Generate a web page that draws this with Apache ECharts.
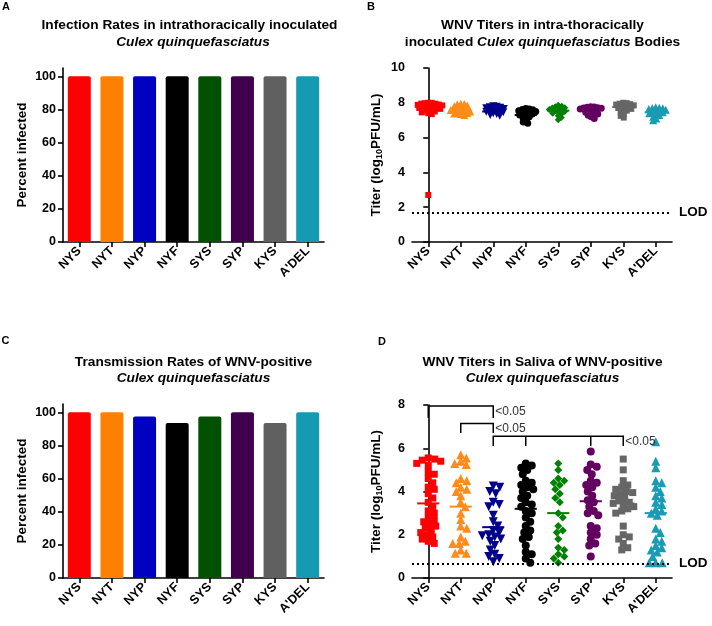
<!DOCTYPE html>
<html><head><meta charset="utf-8">
<script src="https://cdn.jsdelivr.net/npm/echarts@6/dist/echarts.min.js"></script>
<style>html,body{margin:0;padding:0;background:#fff}#c{width:712px;height:626px}</style>
</head><body><div id="c"></div>
<script>
// ---------------- data ----------------
const categories = ['NYS', 'NYT', 'NYP', 'NYF', 'SYS', 'SYP', 'KYS', "A'DEL"];
const infectionRates = [100, 100, 100, 100, 100, 100, 100, 100];
const transmissionRates = [100, 100, 97.5, 93.5, 97.5, 100, 93.5, 100];
const percentTicks = [0, 20, 40, 60, 80, 100];

// Panel B: body titers (log10 PFU/mL)
const bodyNYS = [8.0, 8.0, 7.98, 7.95, 7.95, 7.9, 7.88, 7.85, 7.82, 7.8, 7.78, 7.75, 7.72, 7.7, 7.65, 7.6, 7.58, 7.55, 7.5, 7.45, 7.4, 7.35, 2.7];
const bodyNYT = [7.95, 7.93, 7.92, 7.85, 7.8, 7.75, 7.72, 7.68, 7.65, 7.6, 7.58, 7.55, 7.52, 7.5, 7.45, 7.42, 7.38, 7.35, 7.3];
const bodyNYP = [7.8, 7.78, 7.75, 7.72, 7.68, 7.65, 7.6, 7.58, 7.55, 7.5, 7.48, 7.45, 7.4, 7.35, 7.3, 7.25];
const bodyNYF = [7.67, 7.65, 7.62, 7.6, 7.55, 7.5, 7.48, 7.45, 7.4, 7.35, 7.3, 7.25, 7.2, 7.1, 7.0, 6.9, 6.83];
const bodySYS = [7.86, 7.8, 7.78, 7.72, 7.7, 7.65, 7.62, 7.58, 7.55, 7.5, 7.45, 7.4, 7.35, 7.25, 7.15, 7.02];
const bodySYP = [7.77, 7.76, 7.74, 7.72, 7.7, 7.68, 7.65, 7.6, 7.55, 7.5, 7.45, 7.4, 7.35, 7.28, 7.2, 7.1];
const bodyKYS = [8.0, 7.98, 7.95, 7.92, 7.9, 7.85, 7.82, 7.78, 7.75, 7.7, 7.65, 7.6, 7.55, 7.45, 7.35, 7.25, 7.15];
const bodyADEL = [7.75, 7.72, 7.7, 7.68, 7.65, 7.6, 7.55, 7.5, 7.48, 7.45, 7.4, 7.35, 7.3, 7.2, 7.1, 7.0];
const bodyMeans = [7.75, 7.55, 7.5, 7.3, 7.55, 7.6, 7.75, 7.45];
const bodyLOD = 1.7;

// Panel D: saliva titers (log10 PFU/mL)
const salivaNYS = [5.55, 5.5, 5.45, 5.4, 5.3, 5.2, 4.9, 4.8, 4.6, 4.4, 4.2, 4.1, 3.9, 3.7, 3.5, 3.3, 3.1, 3.0, 2.8, 2.7, 2.6, 2.5, 2.4, 2.3, 2.2, 2.1, 2.0, 1.9, 1.8, 1.7, 1.6];
const salivaNYT = [5.7, 5.55, 5.4, 5.3, 5.25, 4.6, 4.5, 4.4, 4.2, 4.1, 4.0, 3.8, 3.5, 3.3, 3.0, 2.7, 2.4, 2.3, 1.9, 1.7, 1.6, 1.6, 1.3, 1.15, 1.15];
const salivaNYP = [4.25, 4.2, 4.0, 3.9, 3.5, 3.4, 3.3, 2.9, 2.6, 2.4, 2.2, 2.1, 2.0, 1.95, 1.9, 1.8, 1.7, 1.5, 1.3, 1.1, 1.0, 0.9, 0.75];
const salivaNYF = [5.3, 5.2, 5.1, 5.0, 4.8, 4.5, 4.4, 4.3, 4.2, 4.1, 4.0, 3.8, 3.7, 3.5, 3.4, 3.3, 3.1, 3.0, 2.8, 2.6, 2.4, 2.2, 2.1, 1.9, 1.8, 1.5, 1.2, 1.1, 0.9, 0.7];
const salivaSYS = [5.3, 5.0, 4.6, 4.5, 4.4, 4.3, 4.1, 3.9, 3.7, 3.5, 3.0, 2.8, 2.4, 2.2, 2.1, 1.8, 1.4, 1.3, 1.1, 1.0, 0.9, 0.7];
const salivaSYP = [5.85, 5.25, 5.15, 5.0, 4.8, 4.5, 4.4, 4.3, 4.2, 4.0, 3.8, 3.6, 3.5, 3.3, 3.1, 3.0, 2.9, 2.4, 2.3, 2.1, 2.0, 1.8, 1.6, 1.5, 1.0];
const salivaKYS = [5.5, 5.0, 4.5, 4.3, 4.2, 4.1, 4.0, 3.95, 3.9, 3.8, 3.7, 3.6, 3.5, 3.45, 3.4, 3.3, 3.2, 3.1, 3.0, 2.4, 2.0, 1.9, 1.8, 1.6, 1.4, 1.3];
const salivaADEL = [6.3, 5.4, 5.1, 4.5, 4.4, 4.2, 4.0, 3.8, 3.7, 3.5, 3.4, 3.2, 3.1, 3.0, 2.9, 2.3, 2.1, 1.8, 1.7, 1.5, 1.4, 1.3, 1.2, 1.0, 0.7, 0.7, 0.7];
const salivaMeans = [3.45, 3.3, 2.35, 3.2, 3.0, 3.55, 3.45, 3.0];
const salivaLOD = 0.68;

// Significance brackets (panel D)
const bracketLegs = [[0, 2], [1, 2], [2, 3, 5, 6]];
const bracketTops = [7.95, 7.15, 6.55];
const bracketBottoms = [7.4, 6.7, 6.1];
const bracketLabels = ['<0.05', '<0.05', '<0.05'];

// ---------------- styling ----------------
const FONT = "'Liberation Sans', Arial, sans-serif";
const barColors = ['#ff0000', '#ff8000', '#0000c0', '#000000', '#005200', '#40004e', '#606060', '#159ab4'];
const dotColors = ['#ff0000', '#ff8c1a', '#00008b', '#000000', '#008000', '#640060', '#666666', '#1a9bb5'];
const symbols = ['rect', 'triangle', 'triangle', 'circle', 'diamond', 'circle', 'rect', 'triangle'];
const symbolRot = [0, 0, 180, 0, 0, 0, 0, 0];

const bodyGroups = [bodyNYS, bodyNYT, bodyNYP, bodyNYF, bodySYS, bodySYP, bodyKYS, bodyADEL];
const salivaGroups = [salivaNYS, salivaNYT, salivaNYP, salivaNYF, salivaSYS, salivaSYP, salivaKYS, salivaADEL];

const grids = [
  { left: 63, top: 68, width: 261, height: 174 },
  { left: 412, top: 68, width: 260, height: 174 },
  { left: 63, top: 404, width: 261, height: 174 },
  { left: 412, top: 405, width: 260, height: 173 }
];

// beeswarm layout: returns x offsets (in category units)
function swarm(values, pxPerY, pxPerX, minDist) {
  const order = values.map((v, i) => i).sort((a, b) => values[b] - values[a]);
  const placed = [];
  const off = new Array(values.length).fill(0);
  for (const i of order) {
    const y = values[i] * pxPerY;
    let best = 0;
    for (let k = 0; k < 400; k++) {
      const c = (k % 2 === 1 ? 1 : -1) * Math.ceil(k / 2) * 0.5;
      if (placed.every(p => Math.hypot(p.x - c, p.y - y) >= minDist)) { best = c; break; }
    }
    placed.push({ x: best, y: y });
    off[i] = best / pxPerX;
  }
  return off;
}

const axisLineStyle = { color: '#000', width: 1.6 };
function catAxis(gi) {
  return {
    type: 'category', gridIndex: gi, data: categories, boundaryGap: true,
    axisLine: { show: true, lineStyle: axisLineStyle },
    axisTick: { show: true, alignWithLabel: true, length: 5, lineStyle: axisLineStyle },
    axisLabel: { rotate: 45, margin: 7, color: '#000', fontSize: 12.5, fontWeight: 'bold', fontFamily: FONT, interval: 0 },
    splitLine: { show: false }
  };
}
function hiddenValX(gi) {
  return { type: 'value', gridIndex: gi, min: -0.5, max: 7.5, show: false };
}
const titerName = '{a|Titer (log}{s|10}{a|PFU/mL)}';
const titerRich = {
  a: { fontSize: 13.5, fontWeight: 'bold', fontFamily: FONT, color: '#000', lineHeight: 16 },
  s: { fontSize: 9, fontWeight: 'bold', fontFamily: FONT, color: '#000', lineHeight: 10, verticalAlign: 'bottom', padding: [6, 0, 0, 0] }
};
function valAxis(gi, max, interval, name, opts) {
  const ax = {
    type: 'value', gridIndex: gi, min: 0, max: max, interval: interval,
    axisLine: { show: true, lineStyle: axisLineStyle },
    axisTick: { show: true, length: 5, lineStyle: axisLineStyle },
    axisLabel: { margin: 7, color: '#000', fontSize: 12.5, fontWeight: 'bold', fontFamily: FONT },
    splitLine: { show: false },
    name: name, nameLocation: 'middle', nameRotate: 90, nameGap: 34,
    nameTextStyle: { fontSize: 13.5, fontWeight: 'bold', fontFamily: FONT, color: '#000' }
  };
  return Object.assign(ax, opts || {});
}

const yAxes = [
  valAxis(0, 105, 20, 'Percent infected', {
    axisLabel: { margin: 7, color: '#000', fontSize: 12.5, fontWeight: 'bold', fontFamily: FONT, customValues: percentTicks },
    axisTick: { show: true, length: 5, lineStyle: axisLineStyle, customValues: percentTicks }
  }),
  valAxis(1, 10, 2, titerName, { nameGap: 28, nameTextStyle: { rich: titerRich } }),
  valAxis(2, 105, 20, 'Percent infected', {
    axisLabel: { margin: 7, color: '#000', fontSize: 12.5, fontWeight: 'bold', fontFamily: FONT, customValues: percentTicks },
    axisTick: { show: true, length: 5, lineStyle: axisLineStyle, customValues: percentTicks }
  }),
  valAxis(3, 8, 2, titerName, { nameGap: 28, nameTextStyle: { rich: titerRich } })
];

const xAxes = [catAxis(0), catAxis(1), catAxis(2), catAxis(3), hiddenValX(1), hiddenValX(3)];

const series = [];
function barSeries(xi, yi, values) {
  return {
    type: 'bar', xAxisIndex: xi, yAxisIndex: yi, barWidth: 23, silent: true,
    data: values.map((v, i) => ({ value: v, itemStyle: { color: barColors[i], borderRadius: [2, 2, 0, 0] } }))
  };
}
series.push(barSeries(0, 0, infectionRates));
series.push(barSeries(2, 2, transmissionRates));

function scatterPanel(groups, means, lod, xi, yi, grid, ymax, minDist, size) {
  const pxPerY = grid.height / ymax;
  const pxPerX = grid.width / 8;
  groups.forEach((vals, g) => {
    const off = swarm(vals, pxPerY, pxPerX, minDist);
    const s = {
      type: 'scatter', xAxisIndex: xi, yAxisIndex: yi, silent: true, z: 2,
      symbol: symbols[g], symbolRotate: symbolRot[g],
      symbolSize: symbols[g] === 'triangle' ? size + 1 : (symbols[g] === 'rect' ? size - 1 : size),
      itemStyle: { color: dotColors[g], opacity: 1 },
      data: vals.map((v, j) => [g + off[j], v])
    };
    if (g === 0) {
      s.markLine = {
        silent: true, symbol: ['none', 'none'], animation: false,
        lineStyle: { type: [2, 3], color: '#000', width: 1.8 },
        label: { show: true, position: 'end', formatter: 'LOD', color: '#000', fontWeight: 'bold', fontSize: 13.5, fontFamily: FONT, distance: 7 },
        data: [{ yAxis: lod }]
      };
    }
    series.push(s);
  });
  series.push({
    type: 'custom', xAxisIndex: xi, yAxisIndex: yi, silent: true, z: 3,
    data: means.map((m, i) => [i, m]),
    renderItem: function (params, api) {
      const i = api.value(0), m = api.value(1);
      const p1 = api.coord([i - 0.34, m]), p2 = api.coord([i + 0.34, m]);
      return { type: 'line', shape: { x1: p1[0], y1: p1[1], x2: p2[0], y2: p2[1] }, style: { stroke: dotColors[i], lineWidth: 2 } };
    }
  });
}
scatterPanel(bodyGroups, bodyMeans, bodyLOD, 4, 1, grids[1], 10, 3.3, 7);
scatterPanel(salivaGroups, salivaMeans, salivaLOD, 5, 3, grids[3], 8, 6.2, 8);

series.push({
  type: 'custom', xAxisIndex: 5, yAxisIndex: 3, silent: true, z: 4, clip: false,
  data: bracketLegs.map((l, i) => [i, bracketTops[i]]),
  renderItem: function (params, api) {
    const i = api.value(0);
    const legs = bracketLegs[i], top = bracketTops[i], bot = bracketBottoms[i];
    const first = legs[0], last = legs[legs.length - 1];
    const children = [];
    const pts = [api.coord([first, bot]), api.coord([first, top]), api.coord([last, top]), api.coord([last, bot])];
    children.push({ type: 'polyline', shape: { points: pts }, style: { stroke: '#000', lineWidth: 1.5, fill: null } });
    for (let k = 1; k < legs.length - 1; k++) {
      const a = api.coord([legs[k], top]), b = api.coord([legs[k], bot]);
      children.push({ type: 'line', shape: { x1: a[0], y1: a[1], x2: b[0], y2: b[1] }, style: { stroke: '#000', lineWidth: 1.5 } });
    }
    const lp = api.coord([last, (top + bot) / 2]);
    children.push({ type: 'text', x: lp[0] + 2, y: lp[1], style: { text: bracketLabels[i], fill: '#333', font: '12px ' + FONT, align: 'left', verticalAlign: 'middle' } });
    return { type: 'group', children: children };
  }
});

// titles & panel letters
function txt(x, y, text, style) {
  return { type: 'text', x: x, y: y, silent: true, style: Object.assign({ text: text, fill: '#000', align: 'center', verticalAlign: 'middle', font: 'bold 13.7px ' + FONT }, style || {}) };
}
const italicB = 'italic bold 13.7px ' + FONT;
const graphic = [
  txt(6, 7, 'A', { font: 'bold 11px ' + FONT }),
  txt(371, 7, 'B', { font: 'bold 11px ' + FONT }),
  txt(5.5, 340.5, 'C', { font: 'bold 11px ' + FONT }),
  txt(382, 341.5, 'D', { font: 'bold 11px ' + FONT }),
  txt(189.5, 25, 'Infection Rates in intrathoracically inoculated'),
  txt(193, 42, 'Culex quinquefasciatus', { font: italicB }),
  txt(542.5, 25, 'WNV Titers in intra-thoracically'),
  txt(542.5, 42, '{b|inoculated }{i|Culex quinquefasciatus}{b| Bodies}', {
    rich: { b: { fontWeight: 'bold', fontSize: 13.7, fontFamily: FONT, fill: '#000' }, i: { fontStyle: 'italic', fontWeight: 'bold', fontSize: 13.7, fontFamily: FONT, fill: '#000' } }
  }),
  txt(193.5, 362, 'Transmission Rates of WNV-positive'),
  txt(193.5, 378.5, 'Culex quinquefasciatus', { font: italicB }),
  txt(542.5, 362, 'WNV Titers in Saliva of WNV-positive'),
  txt(542.5, 378.5, 'Culex quinquefasciatus', { font: italicB })
];

const chart = echarts.init(document.getElementById('c'));
chart.setOption({
  animation: false,
  backgroundColor: '#fff',
  grid: grids,
  xAxis: xAxes,
  yAxis: yAxes,
  series: series,
  graphic: graphic
});
</script>
</body></html>
